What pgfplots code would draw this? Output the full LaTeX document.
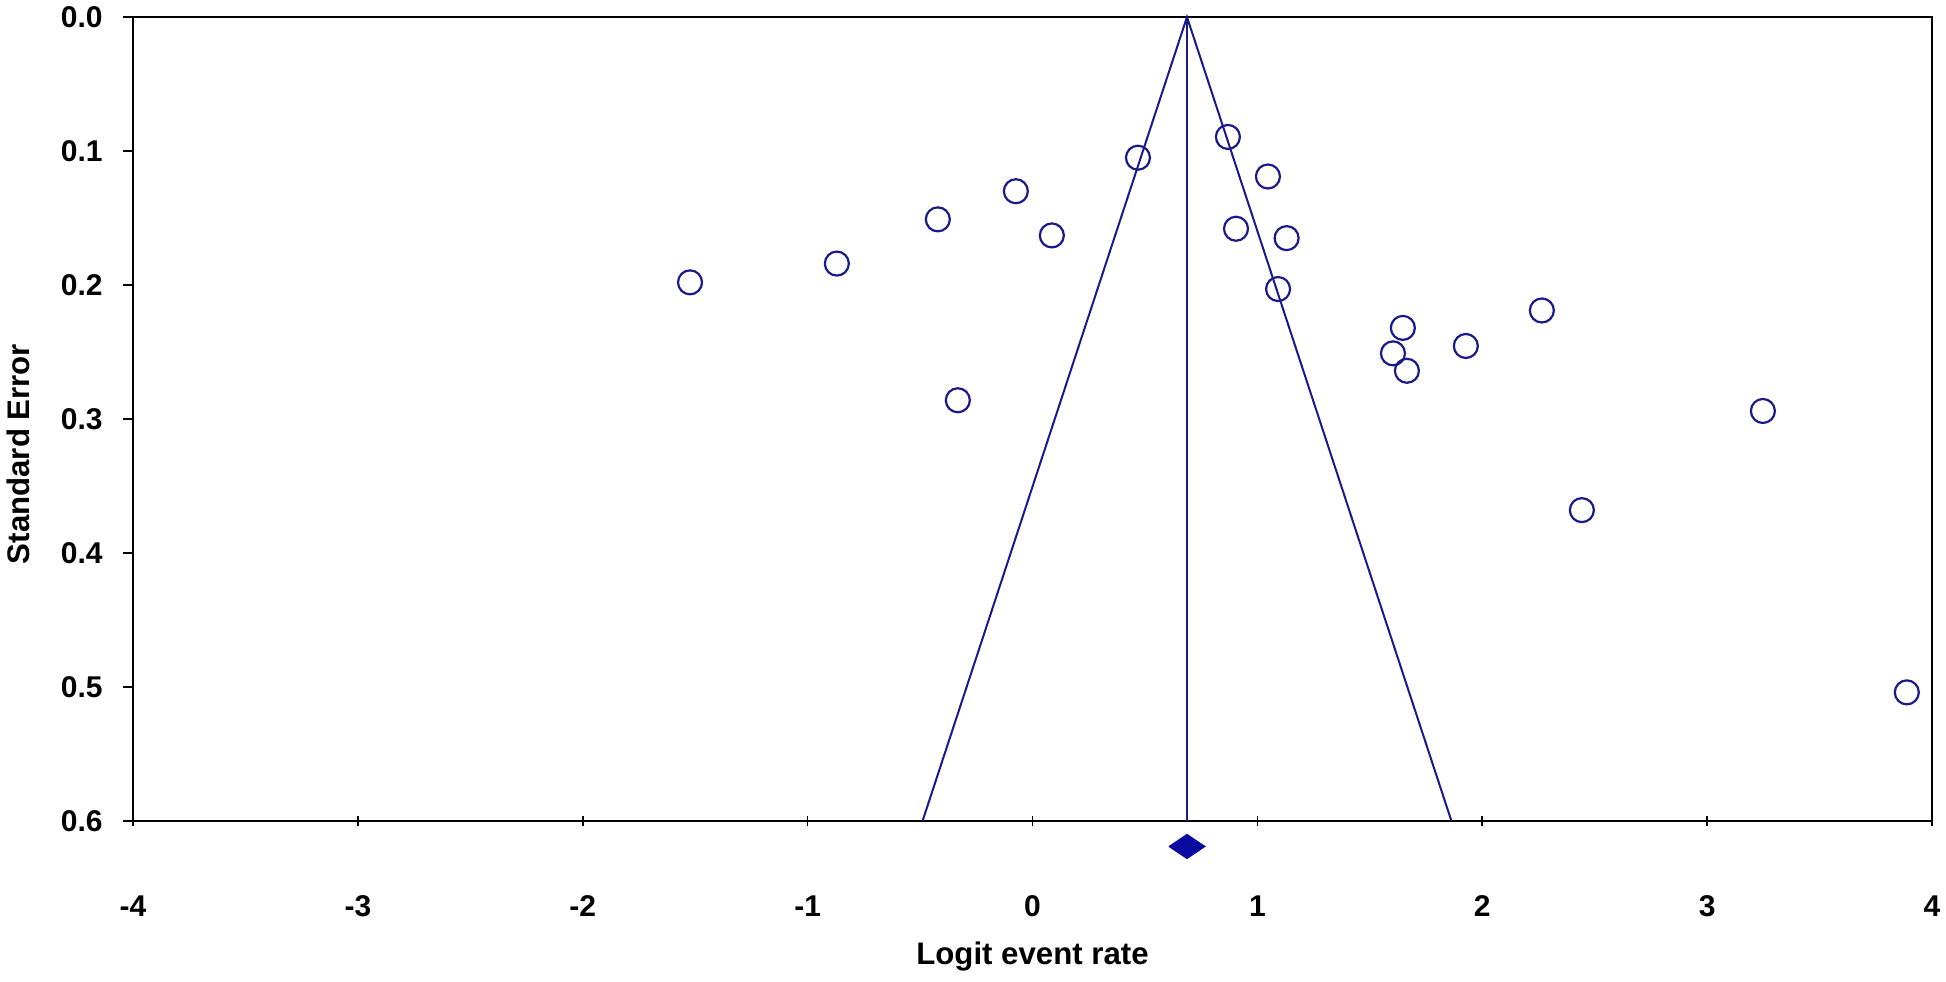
\documentclass[border=0pt]{standalone}
\usepackage{pgfplots}
\pgfplotsset{compat=1.18}
\usepackage{fontspec}
\setmainfont{Liberation Sans}

\definecolor{fnav}{HTML}{1A1A8C}
\definecolor{dia}{HTML}{0A0AA0}

\begin{document}
\begin{tikzpicture}
\path[use as bounding box] (-66.5bp,-80.5bp) rectangle (906.5bp,410.5bp);
\begin{axis}[%
scale only axis,
width=899.5bp,
height=402bp,
xmin=-4, xmax=4,
ymin=0, ymax=0.6,
y dir=reverse,
xtick={-4,-3,...,4},
ytick={0,0.1,...,0.6},
xtick pos=bottom,
ytick pos=left,
xtick align=center,
ytick align=outside,
major tick length=5bp,
axis line style={line width=1bp},
every tick/.style={black, line width=0.8bp},
clip=false,
font=\fontsize{15bp}{18bp}\selectfont\bfseries,
/pgf/number format/assume math mode=true,
yticklabel style={/pgf/number format/fixed, /pgf/number format/fixed zerofill, /pgf/number format/precision=1},
yticklabel style={inner sep=0pt, anchor=east, xshift=-10bp},
xticklabel style={inner sep=0pt, anchor=base, yshift=-45bp},
xlabel={Logit event rate},
ylabel={Standard Error},
xlabel style={font=\fontsize{15.6bp}{18bp}\selectfont\bfseries, at={(axis description cs:0.5,-0.179)}, anchor=base},
ylabel style={font=\fontsize{15.6bp}{18bp}\selectfont\bfseries, at={(axis description cs:-0.064,0.4565)}, anchor=center},
]
% funnel
\addplot[fnav, line width=1bp] coordinates {(-0.489,0.6) (0.687,0) (1.863,0.6)};
\addplot[fnav, line width=1bp] coordinates {(0.687,0) (0.687,0.6)};
% summary diamond
\addplot[draw=dia, fill=dia, line width=0.5bp] coordinates {(0.607,0.619) (0.687,0.610) (0.767,0.619) (0.687,0.628) (0.607,0.619)};
% studies
\addplot[only marks, mark=o, mark size=6bp, mark options={fnav, line width=1.1bp}] table {
x      y
-1.523 0.198
-0.870 0.184
-0.421 0.151
-0.332 0.286
-0.074 0.130
0.086  0.163
0.469  0.105
0.869  0.0895
1.047  0.119
0.905  0.158
1.130  0.165
1.092  0.203
1.647  0.232
1.603  0.251
1.665  0.264
1.927  0.2455
2.265  0.219
2.443  0.368
3.248  0.294
3.888  0.504
};
\end{axis}
\end{tikzpicture}
\end{document}
